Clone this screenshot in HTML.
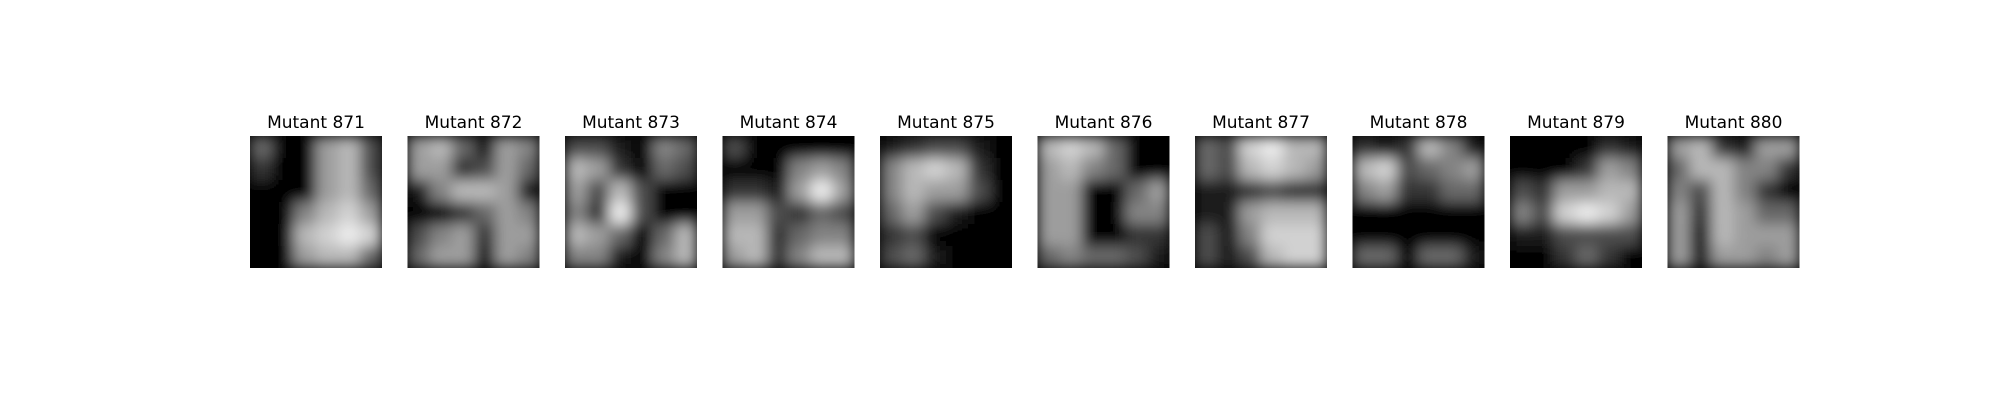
<!DOCTYPE html>
<html><head><meta charset="utf-8"><style>
html,body{margin:0;padding:0;background:#fff;width:2000px;height:400px;overflow:hidden}
svg text{font-family:"DejaVu Sans","Liberation Sans",sans-serif}
</style></head><body>
<svg id="chart" width="2000" height="400" xmlns="http://www.w3.org/2000/svg">
<defs><filter id="blur" x="0" y="0" width="1" height="1"><feGaussianBlur stdDeviation="7" edgeMode="duplicate"/></filter></defs>
</svg>
<script>
const titles = ["Mutant 871","Mutant 872","Mutant 873","Mutant 874","Mutant 875","Mutant 876","Mutant 877","Mutant 878","Mutant 879","Mutant 880"];
const grids = [
["400673","200673","000674","005786","007898","006774"],
["674165","662364","157761","002465","356266","466165"],
["331054","762043","637300","529300","764047","551057"],
["300000","000565","221696","663243","772455","672577"],
["123310","578720","576630","463100","230000","341000"],
["787400","675400","660046","660055","660022","454431"],
["438977","437876","112322","116777","315888","313788"],
["212751","783456","562244","000000","000000","440441"],
["000021","000265","326677","538986","113333","002420"],
["672166","477552","537520","627644","617666","616656"]
];
const svgEl = document.getElementById('chart');
const NS = 'http://www.w3.org/2000/svg';
const x0 = 250, step = 157.5, size = 132, y0 = 136;
function px(i){ return x0 + i*step; }
titles.forEach((t,i)=>{
  const g = document.createElementNS(NS,'g');
  
  
  const cp = document.createElementNS(NS,'clipPath');
  cp.setAttribute('id','c'+i);
  const cr = document.createElementNS(NS,'rect');
  cr.setAttribute('x',px(i)); cr.setAttribute('y',y0); cr.setAttribute('width',size); cr.setAttribute('height',size);
  cp.appendChild(cr); g.appendChild(cp);
  const bg = document.createElementNS(NS,'rect');
  bg.setAttribute('x',px(i)); bg.setAttribute('y',y0); bg.setAttribute('width',size); bg.setAttribute('height',size); bg.setAttribute('fill','#000');
  g.appendChild(bg);
  const inner = document.createElementNS(NS,'g');
  inner.setAttribute('clip-path','url(#c'+i+')');
  const cells = document.createElementNS(NS,'g');
  cells.setAttribute('filter','url(#blur)');
  const grid = grids[i], n = grid.length, cs = size/n;
  grid.forEach((row,r)=>{
    row.split('').forEach((v,c)=>{
      const rc = document.createElementNS(NS,'rect');
      
      
      const l = Math.round(+v/9*235);
      rc.setAttribute('x',px(i)+c*cs); rc.setAttribute('y',y0+r*cs);
      rc.setAttribute('width',cs+0.5); rc.setAttribute('height',cs+0.5);
      rc.setAttribute('fill','rgb('+l+','+l+','+l+')');
      cells.appendChild(rc);
    });
  });
  inner.appendChild(cells); g.appendChild(inner);
  const tx = document.createElementNS(NS,'text');
  
  
  tx.setAttribute('x',px(i)+size/2); tx.setAttribute('y',128);
  tx.setAttribute('text-anchor','middle'); tx.setAttribute('font-size','17');
  tx.textContent = t;
  g.appendChild(tx);
  svgEl.appendChild(g);
});
</script>
</body></html>
